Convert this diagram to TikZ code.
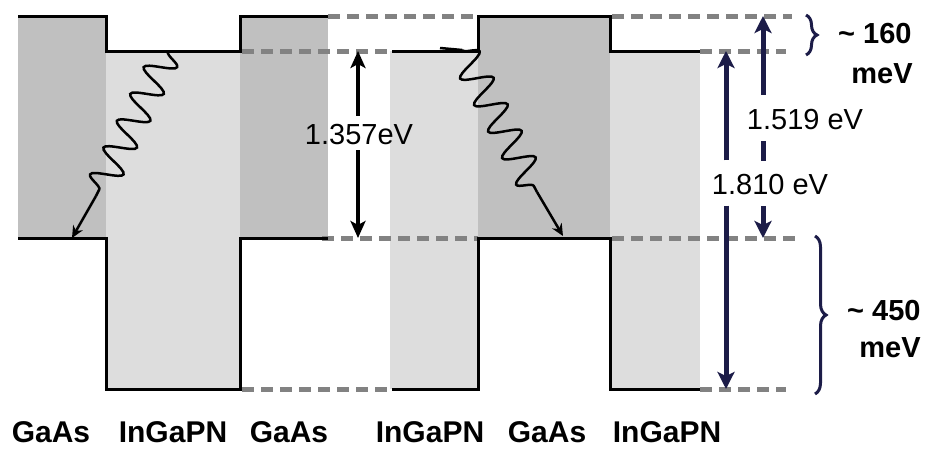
\documentclass[tikz,border=0pt]{standalone}
\usepackage{fontspec}
\setmainfont{Liberation Sans}
\usetikzlibrary{arrows.meta,decorations.pathmorphing,decorations.pathreplacing}
\definecolor{gaasgray}{RGB}{192,192,192}
\definecolor{ingapngray}{RGB}{221,221,221}
\definecolor{dashgray}{RGB}{130,130,130}
\definecolor{navy}{RGB}{28,28,72}
\tikzset{
  gaasfill/.style={fill=gaasgray},
  ingapnfill/.style={fill=ingapngray},
  bandline/.style={draw=black,line width=3pt,line join=miter},
  refline/.style={draw=dashgray,line width=5pt,dash pattern=on 12pt off 7pt},
  blackarrow/.style={line width=3.5pt,-{Stealth[length=17pt,width=15pt,inset=4pt]}},
  navyarrow/.style={navy,line width=5pt,-{Stealth[length=17pt,width=17pt,inset=4pt]}},
  wave/.style={line width=2.5pt,decorate,decoration={snake,segment length=30pt,amplitude=15pt}},
  waveend/.style={line width=2.5pt,-{Stealth[length=12pt,width=11pt]}},
  bracestyle/.style={navy,line width=3pt,decorate,decoration={brace,amplitude=11pt}},
  layerlabel/.style={font=\fontsize{30}{34}\selectfont\bfseries,inner sep=0pt},
  evlabel/.style={font=\fontsize{29}{34}\selectfont,inner xsep=2pt,inner ysep=0pt,text height=22pt,text depth=0pt},
  mevlabel/.style={font=\fontsize{29}{34}\selectfont\bfseries,inner sep=0pt},
}
\begin{document}
\begin{tikzpicture}[x=1pt,y=-1pt]
\useasboundingbox (0,0) rectangle (931,448);
% material regions
\fill[gaasfill] (18,16) rectangle (106,238);
\fill[ingapnfill] (106,51) rectangle (240,389);
\fill[gaasfill] (240,16) rectangle (328,238);
\fill[ingapnfill] (390,51) rectangle (478,389);
\fill[gaasfill] (478,16) rectangle (610,238);
\fill[ingapnfill] (610,51) rectangle (700,389);
% dashed reference levels
\draw[refline] (328,16) -- (478,16);
\draw[refline] (612,16) -- (792,16);
\draw[refline] (242,51) -- (392,51);
\draw[refline] (700,51) -- (786,51);
\draw[refline] (322,238) -- (478,238);
\draw[refline] (612,238) -- (800,238);
\draw[refline] (242,389) -- (392,389);
\draw[refline] (700,389) -- (786,389);
% band edges
\draw[bandline] (18,16) -- (106,16) -- (106,51) -- (240,51) -- (240,16) -- (328,16);
\draw[bandline] (18,238) -- (106,238) -- (106,389) -- (240,389) -- (240,238) -- (328,238);
\draw[bandline] (392,51) -- (478,51) -- (478,16) -- (610,16) -- (610,51) -- (700,51);
\draw[bandline] (392,389) -- (478,389) -- (478,238) -- (610,238) -- (610,389) -- (700,389);
% wavy relaxation arrows
\coordinate (w1s) at (168,52);
\coordinate (w1e) at (96,196);
\coordinate (w1t) at (72,238);
\draw[wave] (w1s) -- (w1e);
\draw[waveend] (w1e) -- (w1t);
\coordinate (w2a) at (440,48);
\coordinate (w2s) at (462,50);
\coordinate (w2e) at (537,192);
\coordinate (w2t) at (563,236);
\draw[line width=2.5pt] (w2a) -- (w2s);
\draw[wave] (w2s) -- (w2e);
\draw[waveend] (w2e) -- (w2t);
% 1.357 eV
\coordinate (a1t) at (358,51);
\coordinate (a1b) at (358,238);
\node[evlabel,inner ysep=6pt] (l1) at (359,133) {1.357eV};
\draw[blackarrow] (l1.north -| a1t) -- (a1t);
\draw[blackarrow] (l1.south -| a1b) -- (a1b);
% 1.519 eV
\coordinate (a2t) at (763,16);
\coordinate (a2b) at (763,238);
\node[evlabel,inner ysep=12pt] (l2) at (805,118) {1.519 eV};
\draw[navyarrow] (l2.north -| a2t) -- (a2t);
\draw[navyarrow] (l2.south -| a2b) -- (a2b);
% 1.810 eV
\coordinate (a3t) at (726,51);
\coordinate (a3b) at (726,389);
\node[evlabel,fill=white,inner xsep=10pt,inner ysep=11.5pt] (l3) at (770,183) {1.810 eV};
\draw[navyarrow] (l3.north -| a3t) -- (a3t);
\draw[navyarrow] (l3.south -| a3b) -- (a3b);
% braces
\coordinate (b1t) at (806,15);
\coordinate (b1b) at (806,55);
\draw[bracestyle] (b1t) -- (b1b);
\node[mevlabel,anchor=west] (m1) at (838,34) {\textasciitilde{} 160};
\node[mevlabel] (m1u) at (882,74) {meV};
\coordinate (b2t) at (815,236);
\coordinate (b2b) at (815,394);
\draw[bracestyle] (b2t) -- (b2b);
\node[mevlabel,anchor=west] (m2) at (847,311) {\textasciitilde{} 450};
\node[mevlabel] (m2u) at (890,348) {meV};
% layer labels
\node[layerlabel] (g1) at (51,432) {GaAs};
\node[layerlabel] (i1) at (173,432) {InGaPN};
\node[layerlabel] (g2) at (289,432) {GaAs};
\node[layerlabel] (i2) at (430,432) {InGaPN};
\node[layerlabel] (g3) at (547,432) {GaAs};
\node[layerlabel] (i3) at (667,432) {InGaPN};
\end{tikzpicture}
\end{document}
